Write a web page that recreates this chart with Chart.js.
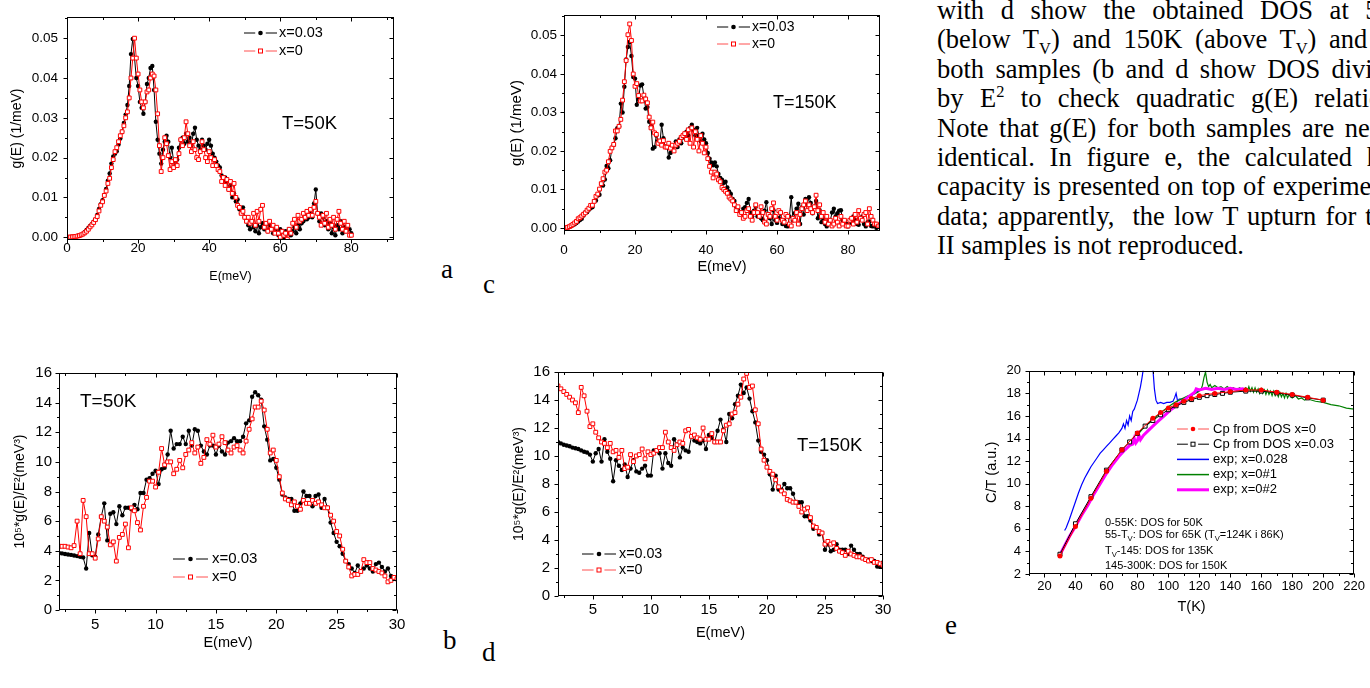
<!DOCTYPE html>
<html>
<head>
<meta charset="utf-8">
<title>Phonon DOS and heat capacity</title>
<script src="https://cdn.jsdelivr.net/npm/chart.js@4.4.1/dist/chart.umd.min.js"></script>
<style>
  html, body { margin: 0; padding: 0; overflow: hidden; background: #fff; }
  body { position: relative; width: 1370px; height: 688px; }
  canvas { position: absolute; }
  .note { position: absolute; left: 937px; top: -4px; width: 474px; font-family: "Liberation Serif", serif; font-size: 26.5px; line-height: 29.4px; color: #000; }
  .note div { text-align: justify; text-align-last: justify; }
  .note div.last { text-align-last: left; }
  .note sub, .note sup { line-height: 0; font-size: 62%; }
  .tag { position: absolute; font-family: "Liberation Serif", serif; font-size: 27px; line-height: 1; color: #000; }
</style>
</head>
<body>
<canvas id="chartA"></canvas>
<canvas id="chartC"></canvas>
<canvas id="chartB"></canvas>
<canvas id="chartD"></canvas>
<canvas id="chartE"></canvas>

<div class="note">
  <div>with d show the obtained DOS at 50K</div>
  <div>(below T<sub>V</sub>) and 150K (above T<sub>V</sub>) and for</div>
  <div>both samples (b and d show DOS divided</div>
  <div>by E<sup>2</sup> to check quadratic g(E) relation).</div>
  <div>Note that g(E) for both samples are nearly</div>
  <div>identical. In figure e, the calculated heat</div>
  <div>capacity is presented on top of experimental</div>
  <div>data; apparently,&nbsp; the low T upturn for type</div>
  <div class="last">II samples is not reproduced.</div>
</div>

<div class="tag" style="left:441px;top:256px">a</div>
<div class="tag" style="left:483px;top:271px">c</div>
<div class="tag" style="left:443px;top:627px">b</div>
<div class="tag" style="left:482px;top:639px">d</div>
<div class="tag" style="left:945px;top:612px">e</div>

<script>
// ---- data ----
// energies (meV) for the g(E) panels
const eA = [
  0, 0.5, 1, 1.5, 2, 2.5, 3, 3.5, 4, 4.5,
  5, 5.5, 6, 6.5, 7, 7.5, 8, 8.5, 9, 9.5,
  10, 10.5, 11, 11.5, 12, 12.5, 13, 13.5, 14, 14.5,
  15, 15.5, 16, 16.5, 17, 17.5, 18, 18.5, 19, 19.5,
  20, 20.5, 21, 21.5, 22, 22.5, 23, 23.5, 24, 24.5,
  25, 25.5, 26, 26.5, 27, 27.5, 28, 28.5, 29, 29.5,
  30, 30.5, 31, 31.5, 32, 32.5, 33, 33.5, 34, 34.5,
  35, 35.5, 36, 36.5, 37, 37.5, 38, 38.5, 39, 39.5,
  40, 40.5, 41, 41.5, 42, 42.5, 43, 43.5, 44, 44.5,
  45, 45.5, 46, 46.5, 47, 47.5, 48, 48.5, 49, 49.5,
  50, 50.5, 51, 51.5, 52, 52.5, 53, 53.5, 54, 54.5,
  55, 55.5, 56, 56.5, 57, 57.5, 58, 58.5, 59, 59.5,
  60, 60.5, 61, 61.5, 62, 62.5, 63, 63.5, 64, 64.5,
  65, 65.5, 66, 66.5, 67, 67.5, 68, 68.5, 69, 69.5,
  70, 70.5, 71, 71.5, 72, 72.5, 73, 73.5, 74, 74.5,
  75, 75.5, 76, 76.5, 77, 77.5, 78, 78.5, 79, 79.5,
  80
];
const eC = [
  0, 0.5, 1, 1.5, 2, 2.5, 3, 3.5, 4, 4.5,
  5, 5.5, 6, 6.5, 7, 7.5, 8, 8.5, 9, 9.5,
  10, 10.5, 11, 11.5, 12, 12.5, 13, 13.5, 14, 14.5,
  15, 15.5, 16, 16.5, 17, 17.5, 18, 18.5, 19, 19.5,
  20, 20.5, 21, 21.5, 22, 22.5, 23, 23.5, 24, 24.5,
  25, 25.5, 26, 26.5, 27, 27.5, 28, 28.5, 29, 29.5,
  30, 30.5, 31, 31.5, 32, 32.5, 33, 33.5, 34, 34.5,
  35, 35.5, 36, 36.5, 37, 37.5, 38, 38.5, 39, 39.5,
  40, 40.5, 41, 41.5, 42, 42.5, 43, 43.5, 44, 44.5,
  45, 45.5, 46, 46.5, 47, 47.5, 48, 48.5, 49, 49.5,
  50, 50.5, 51, 51.5, 52, 52.5, 53, 53.5, 54, 54.5,
  55, 55.5, 56, 56.5, 57, 57.5, 58, 58.5, 59, 59.5,
  60, 60.5, 61, 61.5, 62, 62.5, 63, 63.5, 64, 64.5,
  65, 65.5, 66, 66.5, 67, 67.5, 68, 68.5, 69, 69.5,
  70, 70.5, 71, 71.5, 72, 72.5, 73, 73.5, 74, 74.5,
  75, 75.5, 76, 76.5, 77, 77.5, 78, 78.5, 79, 79.5,
  80, 80.5, 81, 81.5, 82, 82.5, 83, 83.5, 84, 84.5,
  85, 85.5, 86, 86.5, 87, 87.5, 88, 88.5, 89
];
// energies for the g(E)/E^2 panels
const eBD = [
  2, 2.25, 2.5, 2.75, 3, 3.25, 3.5, 3.75, 4, 4.25, 4.5, 4.75,
  5, 5.25, 5.5, 5.75, 6, 6.25, 6.5, 6.75, 7, 7.25, 7.5, 7.75,
  8, 8.25, 8.5, 8.75, 9, 9.25, 9.5, 9.75, 10, 10.25, 10.5, 10.75,
  11, 11.25, 11.5, 11.75, 12, 12.25, 12.5, 12.75, 13, 13.25, 13.5, 13.75,
  14, 14.25, 14.5, 14.75, 15, 15.25, 15.5, 15.75, 16, 16.25, 16.5, 16.75,
  17, 17.25, 17.5, 17.75, 18, 18.25, 18.5, 18.75, 19, 19.25, 19.5, 19.75,
  20, 20.25, 20.5, 20.75, 21, 21.25, 21.5, 21.75, 22, 22.25, 22.5, 22.75,
  23, 23.25, 23.5, 23.75, 24, 24.25, 24.5, 24.75, 25, 25.25, 25.5, 25.75,
  26, 26.25, 26.5, 26.75, 27, 27.25, 27.5, 27.75, 28, 28.25, 28.5, 28.75,
  29, 29.25, 29.5, 29.75, 30
];

// a: g(E) at T=50K
const gA003 = [
  0, 0, 0.00005, 0.0001, 0.00015, 0.00025, 0.00035, 0.00045, 0.0006, 0.0009,
  0.0013, 0.0018, 0.0023, 0.0028, 0.0033, 0.0039, 0.0044, 0.0056, 0.0071, 0.0083,
  0.0093, 0.0106, 0.0121, 0.0142, 0.016, 0.0185, 0.0203, 0.021, 0.0216, 0.0233,
  0.0248, 0.0265, 0.0287, 0.0308, 0.0332, 0.038, 0.046, 0.0498, 0.045, 0.04,
  0.038, 0.034, 0.0325, 0.031, 0.034, 0.0385, 0.04, 0.0425, 0.043, 0.037,
  0.029, 0.0245, 0.021, 0.0185, 0.022, 0.024, 0.0255, 0.024, 0.02, 0.0225,
  0.019, 0.018, 0.0195, 0.0225, 0.0245, 0.025, 0.0235, 0.026, 0.024, 0.025,
  0.023, 0.026, 0.0275, 0.0245, 0.023, 0.022, 0.0245, 0.023, 0.022, 0.0235,
  0.0245, 0.023, 0.021, 0.02, 0.019, 0.018, 0.0175, 0.0155, 0.014, 0.015,
  0.014, 0.012, 0.013, 0.01, 0.011, 0.009, 0.0095, 0.007, 0.006, 0.0075,
  0.005, 0.004, 0.003, 0.002, 0.004, 0.0025, 0.0015, 0.003, 0.001, 0.0025,
  0.0035, 0.002, 0.0035, 0.0015, 0.003, 0.002, 0.001, 0.0025, 0.0015, 0.0005,
  0.002, 0.001, 0, 0.0015, 0.001, 0.002, 0.0005, 0.0015, 0.0025, 0.001,
  0.003, 0.002, 0.0035, 0.004, 0.0055, 0.0045, 0.005, 0.006, 0.005, 0.0085,
  0.012, 0.006, 0.004, 0.006, 0.005, 0.003, 0.004, 0.002, 0.0035, 0.001,
  0.0025, 0.0005, 0.003, 0.002, 0.004, 0.001, 0.0025, 0.0015, 0.003, 0.002,
  0.001
];
const gA0 = [
  0, 0, 0.00005, 0.0001, 0.00015, 0.0002, 0.0003, 0.0004, 0.0006, 0.0008,
  0.0011, 0.0015, 0.002, 0.0026, 0.0031, 0.0037, 0.0044, 0.0052, 0.0066, 0.008,
  0.0089, 0.0105, 0.0116, 0.0135, 0.0148, 0.0175, 0.0195, 0.0215, 0.0225, 0.024,
  0.0255, 0.0265, 0.028, 0.03, 0.0315, 0.035, 0.04, 0.045, 0.05, 0.045,
  0.041, 0.037, 0.034, 0.0325, 0.034, 0.0365, 0.037, 0.04, 0.041, 0.0405,
  0.037, 0.031, 0.023, 0.0165, 0.02, 0.025, 0.0235, 0.0205, 0.017, 0.019,
  0.0175, 0.0195, 0.018, 0.021, 0.0245, 0.023, 0.025, 0.029, 0.026, 0.023,
  0.0215, 0.024, 0.022, 0.02, 0.0195, 0.0215, 0.024, 0.022, 0.02, 0.019,
  0.0215, 0.02, 0.018, 0.0195, 0.018, 0.017, 0.0165, 0.014, 0.015, 0.013,
  0.0145, 0.012, 0.014, 0.011, 0.0135, 0.01, 0.008, 0.0075, 0.006, 0.0065,
  0.005, 0.004, 0.005, 0.0035, 0.004, 0.006, 0.003, 0.0065, 0.004, 0.007,
  0.008, 0.0025, 0.0035, 0.0015, 0.004, 0.002, 0.003, 0.001, 0.0025, 0.001,
  0, 0.0015, 0.0005, 0.001, -0.0005, 0.002, 0.001, 0.0035, 0.0045, 0.0025,
  0.0055, 0.004, 0.0045, 0.006, 0.005, 0.0065, 0.0055, 0.007, 0.0055, 0.0075,
  0.009, 0.006, 0.005, 0.003, 0.0055, 0.0035, 0.006, 0.0025, 0.0045, 0.003,
  0.005, 0.002, 0.0045, 0.0065, 0.0035, 0.002, 0.004, 0.0015, 0.003, 0.0005,
  0.0005
];

// c: g(E) at T=150K
const gC003 = [
  0, 0.00003, 0.00011, 0.00025, 0.00044, 0.00068, 0.00096, 0.00129, 0.00166, 0.00207,
  0.0024, 0.0032, 0.004, 0.0041, 0.00475, 0.0051, 0.0054, 0.007, 0.0071, 0.0084,
  0.0086, 0.0115, 0.011, 0.0126, 0.0161, 0.0155, 0.0176, 0.0208, 0.0216, 0.0233,
  0.0259, 0.0264, 0.0323, 0.03, 0.0367, 0.0438, 0.047, 0.0483, 0.0447, 0.0392,
  0.0388, 0.032, 0.0335, 0.037, 0.0373, 0.0342, 0.031, 0.0314, 0.0276, 0.0264,
  0.0206, 0.021, 0.024, 0.0226, 0.0219, 0.0268, 0.0233, 0.0211, 0.0211, 0.0183,
  0.0195, 0.021, 0.0215, 0.0225, 0.021, 0.023, 0.022, 0.0235, 0.0245, 0.025,
  0.024, 0.026, 0.0268, 0.0255, 0.024, 0.026, 0.024, 0.0225, 0.0245, 0.023,
  0.022, 0.0195, 0.018, 0.017, 0.0163, 0.017, 0.016, 0.014, 0.013, 0.0125,
  0.0117, 0.012, 0.0105, 0.0095, 0.0088, 0.0075, 0.007, 0.0055, 0.005, 0.004,
  0.0038, 0.005, 0.0054, 0.0065, 0.0075, 0.004, 0.003, 0.0045, 0.0055, 0.003,
  0.0038, 0.0025, 0.002, 0.0045, 0.0067, 0.0035, 0.0025, 0.001, 0.0046, 0.002,
  0.0013, 0.0025, 0.0038, 0.001, 0.002, 0.0005, 0.0004, 0.003, 0.008, 0.002,
  0.0038, 0.005, 0.0063, 0.001, 0.0054, 0.0035, 0.0075, 0.006, 0.008, 0.0065,
  0.0038, 0.0055, 0.007, 0.0025, 0.0046, 0.0015, 0.0025, 0.001, 0.0004, 0.002,
  0.002, 0.004, 0.005, 0.003, 0.0038, 0.0045, 0.0046, 0.002, 0.0017, 0.001,
  0.0004, 0.002, 0.0013, 0.003, 0.002, 0.001, 0.0008, 0.0025, 0.003, 0.001,
  0.0004, 0.0015, 0.0017, 0.0005, 0.0004, 0.001, 0, 0.0005, 0.0002
];
const gC0 = [
  0, 0.00004, 0.00015, 0.00034, 0.0006, 0.00092, 0.00129, 0.00169, 0.00238, 0.00267,
  0.00308, 0.00354, 0.00392, 0.0046, 0.0051, 0.00585, 0.0059, 0.0069, 0.0082, 0.0088,
  0.0101, 0.0115, 0.0128, 0.0145, 0.015, 0.0172, 0.0199, 0.0208, 0.0217, 0.0252,
  0.0252, 0.0264, 0.0282, 0.0332, 0.038, 0.0435, 0.0502, 0.053, 0.0487, 0.04,
  0.0368, 0.0375, 0.0344, 0.033, 0.033, 0.0345, 0.0335, 0.0325, 0.0288, 0.026,
  0.0275, 0.0247, 0.0243, 0.022, 0.0226, 0.0215, 0.0227, 0.021, 0.021, 0.022,
  0.0207, 0.0215, 0.02, 0.0215, 0.022, 0.0225, 0.0235, 0.024, 0.0245, 0.023,
  0.0255, 0.022, 0.026, 0.021, 0.025, 0.023, 0.02, 0.024, 0.022, 0.0195,
  0.021, 0.018, 0.016, 0.0145, 0.013, 0.0145, 0.014, 0.0125, 0.012, 0.0105,
  0.01, 0.0095, 0.009, 0.008, 0.0075, 0.007, 0.006, 0.0045, 0.0055, 0.0035,
  0.004, 0.0025, 0.003, 0.0045, 0.005, 0.003, 0.002, 0.004, 0.006, 0.004,
  0.003, 0.0055, 0.004, 0.0015, 0.001, 0.0035, 0.003, 0.005, 0.0065, 0.003,
  0.002, 0.0045, 0.004, 0.002, 0.0015, 0.0035, 0.003, 0.001, 0.0005, 0.0025,
  0.002, 0.004, 0.001, 0.0035, 0.005, 0.006, 0.007, 0.0045, 0.006, 0.005,
  0.004, 0.0055, 0.0085, 0.0045, 0.006, 0.003, 0.004, 0.0015, 0.003, 0.001,
  0.002, 0.0005, 0.001, 0.0025, 0.0015, 0.0005, 0.003, 0.001, 0.002, 0.0005,
  0.0005, 0.002, 0.0025, 0.001, 0.0035, 0.0015, 0.0045, 0.0025, 0.002, 0.0035,
  0.004, 0.001, 0.005, 0.003, 0.002, 0.001, 0.001, 0.0005, 0.0005
];

// b: 10^5 g(E)/E^2 at T=50K
const rB003 = [
  3.85, 3.82, 3.78, 3.75, 3.72, 3.68, 3.64, 3.6, 3.55, 2.8, 5.2, 3.7,
  3.6, 5.1, 6.3, 7.2, 4.7, 6.5, 6.6, 5.8, 7.0, 6.4, 6.9, 6.9,
  6.8, 7.1, 6.8, 7.9, 7.9, 8.8, 8.9, 9.2, 9.4, 8.5, 9.5, 9.6,
  10.5, 12.1, 10.9, 11.2, 11.2, 11.7, 11.2, 12.1, 11.1, 12.2, 12.1, 11.1,
  10.7, 10.5, 11.1, 11.1, 10.5, 11.1, 10.7, 10.5, 11.3, 11.4, 11.6, 11.4,
  11.4, 11.7, 12.6, 12.8, 14.4, 14.7, 14.5, 14.2, 12.4, 11.5, 10.1, 10.2,
  9.6, 8.8, 7.8, 7.6, 7.5, 7.5, 6.7, 6.7, 7.2, 8.0, 7.7, 7.7,
  7.0, 7.7, 7.8, 6.9, 7.5, 6.9, 5.9, 5.2, 4.6, 4.3, 3.8, 3.3,
  3.1, 2.8, 2.5, 3.0, 2.6, 2.8, 3.0, 2.8, 2.6, 3.1, 3.2, 2.9,
  2.6, 2.8, 2.3, 2.2, 2.1
];
const rB0 = [
  4.3, 4.3, 4.3, 4.25, 4.2, 4.35, 6.0, 3.8, 7.4, 6.3, 3.8, 3.8,
  3.5, 4.8, 6.3, 6.0, 5.6, 4.4, 4.6, 3.3, 4.9, 5.1, 5.8, 4.2,
  6.9, 6.7, 5.9, 5.4, 7.0, 7.6, 8.7, 8.7, 8.3, 9.3, 10.9, 9.8,
  10.0, 10.0, 9.2, 9.5, 10.1, 9.6, 10.5, 10.8, 11.3, 10.6, 11.0, 9.9,
  10.3, 11.5, 11.2, 11.8, 11.0, 11.2, 11.7, 11.3, 10.8, 10.6, 11.0, 11.1,
  10.8, 10.6, 11.4, 12.2, 12.9, 13.7, 13.7, 14.1, 13.5, 12.2, 10.6, 10.8,
  10.1, 9.0, 7.9, 7.5, 7.4, 7.1, 7.3, 7.0, 6.8, 7.4, 7.2, 7.2,
  7.4, 7.2, 7.3, 7.1, 6.9, 6.9, 6.4, 6.0, 5.3, 5.0, 4.1, 3.3,
  2.9, 2.3, 2.4, 2.4, 2.6, 3.4, 3.2, 3.2, 2.8, 2.7, 2.6, 2.5,
  2.3, 1.9, 2.0, 2.2, 2.1
];

// d: 10^5 g(E)/E^2 at T=150K
const rD003 = [
  11.0, 10.9, 10.8, 10.75, 10.7, 10.6, 10.55, 10.5, 10.4, 10.3, 10.25, 10.1,
  9.6, 10.2, 10.5, 9.6, 11.2, 10.3, 9.8, 8.2, 9.7, 9.3, 9.0, 9.4,
  8.5, 9.1, 9.7, 8.9, 8.8, 9.1, 9.3, 8.6, 8.6, 10.4, 10.4, 10.2,
  9.1, 10.2, 9.5, 9.3, 11.2, 10.8, 9.9, 10.6, 10.4, 10.3, 11.4, 11.1,
  11.0, 10.9, 11.1, 10.5, 11.5, 11.3, 11.0, 11.8, 12.6, 11.9, 11.0, 13.0,
  12.7, 13.7, 14.3, 15.1, 14.5, 14.9, 14.1, 13.2, 12.4, 11.1, 10.3, 10.1,
  9.7, 8.7, 7.6, 8.6, 7.6, 7.6, 8.0, 7.7, 7.7, 7.3, 6.7, 6.7,
  6.7, 5.7, 5.7, 5.4, 4.8, 4.9, 4.4, 4.5, 3.3, 3.7, 3.2, 3.3,
  3.7, 3.3, 3.3, 3.3, 3.0, 3.6, 3.3, 3.0, 3.0, 2.8, 2.6, 2.6,
  2.5, 2.5, 2.1, 2.1, 2.4
];
const rD0 = [
  15.0, 14.8, 14.6, 14.4, 14.2, 14.0, 13.8, 13.1, 14.9, 14.3, 13.2, 12.1,
  12.3, 11.7, 11.3, 11.0, 10.9, 10.6, 10.9, 10.3, 10.4, 9.9, 10.4, 9.1,
  9.2, 10.1, 9.6, 10.0, 10.1, 10.5, 9.8, 10.3, 10.1, 10.2, 10.4, 10.6,
  10.6, 11.7, 11.0, 10.6, 10.4, 10.8, 11.0, 10.9, 11.8, 11.9, 11.4, 11.5,
  11.3, 11.2, 12.0, 11.2, 11.2, 11.6, 11.0, 11.0, 11.0, 11.8, 12.2, 12.3,
  13.0, 13.1, 13.7, 14.2, 15.5, 15.9, 14.9, 15.0, 13.3, 12.3, 10.5, 9.7,
  9.2, 8.9, 8.7, 8.3, 7.8, 7.5, 7.3, 6.9, 6.8, 6.7, 6.7, 6.4,
  6.0, 6.2, 6.3, 5.6, 5.0, 4.9, 4.6, 4.5, 3.7, 3.9, 3.7, 3.8,
  3.4, 3.2, 3.1, 2.9, 3.2, 3.0, 2.9, 2.8, 2.8, 2.7, 2.6, 2.5,
  2.6, 2.4, 2.4, 2.3, 2.2
];

// e: C/T, calculated from DOS and measured
const tCalc0 = [30, 40, 50, 60, 70, 80, 90, 95, 100, 105, 110, 115, 120, 130, 140, 150, 160, 170, 180, 190, 200];
const cCalc0 = [3.6, 6.2, 8.7, 11.1, 13.0, 14.5, 15.8, 16.3, 16.7, 17.0, 17.3, 17.55, 17.8, 18.0, 18.15, 18.3, 18.3, 18.1, 17.9, 17.65, 17.4];
const tCalc003 = [30, 40, 50, 60, 70, 75, 80, 85, 90, 95, 100, 105, 110, 115, 120, 125, 130, 135, 140, 150, 160, 170, 180, 190, 200];
const cCalc003 = [3.75, 6.45, 8.85, 11.2, 13.0, 13.7, 14.45, 15.1, 15.6, 16.1, 16.55, 16.9, 17.2, 17.45, 17.65, 17.8, 17.9, 18.0, 18.1, 18.2, 18.2, 18.05, 17.85, 17.6, 17.4];
const tExp028 = [
  33, 34, 36, 38, 40, 42, 44, 46, 48, 50, 52, 54, 56, 58, 60, 62, 64, 66, 68, 70,
  71, 72, 73, 74, 75, 76, 77, 78, 79, 80, 81, 82, 83, 84, 85, 89, 90, 91, 92, 93,
  95, 97, 99, 101, 103, 104, 105, 106, 107, 109, 111, 113, 115, 117, 119, 120
];
const cExp028 = [
  5.85, 6.1, 6.8, 7.6, 8.4, 9.2, 9.9, 10.5, 11.0, 11.5, 11.9, 12.3, 12.7, 13.0, 13.3, 13.6, 13.9, 14.2, 14.5, 14.9,
  15.3, 14.9, 15.6, 15.2, 16.0, 15.6, 16.4, 16.6, 17.0, 17.4, 18.0, 18.6, 19.4, 20.3, 21.5, 21.5, 20.2, 18.4, 17.4, 17.1,
  17.2, 17.1, 17.2, 17.2, 17.3, 17.6, 18.0, 17.3, 17.5, 17.5, 17.5, 17.7, 17.8, 18.0, 18.2, 18.3
];
const tExp0a = [
  80, 83, 86, 89, 92, 95, 98, 101, 104, 107, 110, 113, 116, 119, 121, 122, 123, 124, 125, 126,
  127, 128, 130, 132, 134, 136, 138, 140, 142, 144, 146, 148, 150, 151, 152, 153, 154, 155, 156, 157,
  158, 159, 160, 161, 162, 163, 164, 165, 166, 167, 168, 169, 170, 171, 172, 173, 174, 175, 176, 177,
  178, 180, 182, 184, 186, 188, 190, 195, 200, 205, 210, 215, 220
];
const cExp0a = [
  14.3, 14.8, 15.2, 15.6, 15.9, 16.3, 16.6, 16.9, 17.2, 17.4, 17.6, 17.8, 17.9, 18.1, 18.3, 18.7, 19.4, 19.9, 19.0, 18.6,
  18.8, 18.5, 18.7, 18.5, 18.6, 18.4, 18.6, 18.4, 18.5, 18.3, 18.5, 18.3, 18.5, 18.2, 18.6, 18.2, 18.5, 18.1, 18.5, 18.1,
  18.4, 18.0, 18.4, 18.0, 18.3, 17.9, 18.3, 17.9, 18.2, 17.8, 18.2, 17.8, 18.1, 17.7, 18.1, 17.7, 18.0, 17.6, 18.0, 17.6,
  17.9, 17.6, 17.8, 17.5, 17.6, 17.4, 17.5, 17.3, 17.2, 17.0, 16.9, 16.7, 16.6
];
const tExp0b = [
  30, 33, 36, 40, 44, 48, 52, 56, 60, 64, 68, 72, 75, 77, 78, 79, 80, 81, 82, 84,
  87, 90, 94, 98, 102, 106, 110, 114, 117, 118, 120, 124, 128, 132, 136, 140, 144, 148, 150
];
const cExp0b = [
  3.7, 4.5, 5.3, 6.2, 7.2, 8.1, 9.1, 10.0, 10.9, 11.7, 12.4, 13.0, 13.4, 13.5, 14.0, 13.6, 13.8, 14.3, 13.9, 14.3,
  14.7, 15.1, 15.6, 16.1, 16.6, 17.0, 17.4, 17.8, 18.1, 18.4, 18.3, 18.45, 18.35, 18.45, 18.35, 18.45, 18.35, 18.4, 18.3
];

// tick labels
const gTicks = [0, 0.01, 0.02, 0.03, 0.04, 0.05];
const eTicksAC = [0, 20, 40, 60, 80];
const eTicksBD = [5, 10, 15, 20, 25, 30];
const rTicks = [0, 2, 4, 6, 8, 10, 12, 14, 16];
const tTicks = [20, 40, 60, 80, 100, 120, 140, 160, 180, 200, 220];
const cTicks = [2, 4, 6, 8, 10, 12, 14, 16, 18, 20];

// ---- drawing ----
const FONT = '"Liberation Sans", Arial, sans-serif';
Chart.defaults.font.family = FONT;
Chart.defaults.color = '#000';

function pts(xs, ys) {
  return xs.map((x, i) => ({ x: x, y: ys[i] }));
}

function blackSeries(data) {
  return { data: data, showLine: true, borderColor: '#000', borderWidth: 1, pointStyle: 'circle',
    pointRadius: 2.2, pointBackgroundColor: '#000', pointBorderWidth: 0 };
}

function redSeries(data) {
  return { data: data, showLine: true, borderColor: '#ff0000', borderWidth: 1, pointStyle: 'rect',
    pointRadius: 2.7, pointBackgroundColor: '#fff', pointBorderColor: '#ff0000', pointBorderWidth: 1 };
}

// major/minor tick positions for the frame
function marks(min, max, step) {
  const half = step / 2, out = [];
  for (let k = Math.ceil(min / half - 1e-9); k * half <= max + 1e-9; k++) {
    out.push({ v: k * half, major: Math.abs(k) % 2 === 0 });
  }
  return out;
}

// box round the plot, ticks out on bottom/left and in on top/right
const framePlugin = {
  id: 'frame',
  afterDatasetsDraw(chart, args, opts) {
    const ctx = chart.ctx, a = chart.chartArea;
    const xs = chart.scales.x, ys = chart.scales.y;
    const L = Math.round(a.left) + 0.5, R = Math.round(a.right) - 0.5;
    const T = Math.round(a.top) + 0.5, B = Math.round(a.bottom) - 0.5;
    ctx.save();
    ctx.strokeStyle = '#000';
    ctx.lineWidth = 1;
    ctx.strokeRect(L, T, R - L, B - T);
    ctx.beginPath();
    marks(xs.min, xs.max, opts.xStep).forEach(t => {
      const px = Math.round(xs.getPixelForValue(t.v)) + 0.5;
      const len = t.major ? 4 : 2.5;
      ctx.moveTo(px, B); ctx.lineTo(px, B + len);
      ctx.moveTo(px, T); ctx.lineTo(px, T + len);
    });
    marks(ys.min, ys.max, opts.yStep).forEach(t => {
      const py = Math.round(ys.getPixelForValue(t.v)) + 0.5;
      const len = t.major ? 4 : 2.5;
      ctx.moveTo(L - len, py); ctx.lineTo(L, py);
      ctx.moveTo(R - len, py); ctx.lineTo(R, py);
    });
    ctx.stroke();
    ctx.restore();
  }
};
Chart.register(framePlugin);

function drawMarker(ctx, row, x, y) {
  if (row.marker === 'circle') {
    ctx.fillStyle = row.markerColor;
    ctx.beginPath();
    ctx.arc(x, y, 2.3, 0, Math.PI * 2);
    ctx.fill();
  } else {
    ctx.fillStyle = '#fff';
    ctx.strokeStyle = row.markerColor;
    ctx.lineWidth = 1;
    ctx.fillRect(x - 2, y - 2, 4, 4);
    ctx.strokeRect(x - 2, y - 2, 4, 4);
  }
}

// in-plot legend and free text, given in page coordinates
function overlay(box, legend, texts) {
  return {
    id: 'overlay',
    afterDraw(chart) {
      const ctx = chart.ctx;
      ctx.save();
      ctx.textBaseline = 'middle';
      ctx.textAlign = 'left';
      if (legend) {
        legend.rows.forEach((r, i) => {
          const x = legend.x - box.left;
          const y = legend.y - box.top + i * legend.gap;
          const len = legend.len;
          ctx.strokeStyle = r.color;
          ctx.lineWidth = r.lineWidth || 1;
          ctx.beginPath();
          if (r.marker) {
            ctx.moveTo(x, y); ctx.lineTo(x + len * 0.34, y);
            ctx.moveTo(x + len * 0.66, y); ctx.lineTo(x + len, y);
          } else {
            ctx.moveTo(x, y); ctx.lineTo(x + len, y);
          }
          ctx.stroke();
          if (r.marker) drawMarker(ctx, r, x + len / 2, y);
          ctx.fillStyle = '#000';
          ctx.font = legend.size + 'px ' + FONT;
          ctx.fillText(r.text, x + legend.textDx, y);
        });
      }
      (texts || []).forEach(t => {
        let x = t.x - box.left;
        const y = t.y - box.top;
        ctx.fillStyle = '#000';
        t.runs.forEach(run => {
          const sub = run[1] === 1;
          const size = sub ? t.size * 0.7 : t.size;
          ctx.font = size + 'px ' + FONT;
          ctx.fillText(run[0], x, sub ? y + t.size * 0.35 : y);
          x += ctx.measureText(run[0]).width;
        });
      });
      ctx.restore();
    }
  };
}

function axis(a, fit) {
  return {
    type: 'linear',
    min: a.min,
    max: a.max,
    afterFit: fit,
    afterBuildTicks: s => { s.ticks = a.ticks.map(v => ({ value: v })); },
    grid: { drawOnChartArea: false, drawTicks: false },
    border: { display: false },
    ticks: { autoSkip: false, maxRotation: 0, padding: a.pad, font: { size: a.size }, callback: a.fmt || (v => String(v)) },
    title: { display: true, text: a.title, font: { size: a.titleSize }, padding: a.titlePad }
  };
}

function makePanel(id, g) {
  const canvas = document.getElementById(id);
  const b = g.box, p = g.plot;
  canvas.width = b.width;
  canvas.height = b.height;
  canvas.style.left = b.left + 'px';
  canvas.style.top = b.top + 'px';
  canvas.style.width = b.width + 'px';
  canvas.style.height = b.height + 'px';

  return new Chart(canvas, {
    type: 'scatter',
    data: { datasets: g.datasets },
    options: {
      responsive: false,
      animation: false,
      devicePixelRatio: 1,
      events: [],
      layout: { padding: { left: 0, bottom: 0, top: p.top - b.top, right: b.left + b.width - p.right } },
      plugins: {
        legend: { display: false },
        tooltip: { enabled: false },
        frame: { xStep: g.x.step, yStep: g.y.step }
      },
      scales: {
        x: axis(g.x, s => { s.height = b.top + b.height - p.bottom; }),
        y: axis(g.y, s => { s.width = p.left - b.left; })
      }
    },
    plugins: [overlay(b, g.legend, g.texts)]
  });
}

const legendXY = (x, y, gap, size, len, textDx) => ({
  x: x, y: y, gap: gap, size: size, len: len, textDx: textDx,
  rows: [
    { text: 'x=0.03', color: '#000', marker: 'circle', markerColor: '#000' },
    { text: 'x=0', color: '#ff5050', marker: 'rect', markerColor: '#ff0000' }
  ]
});

// a
makePanel('chartA', {
  box: { left: 0, top: 0, width: 400, height: 290 },
  plot: { left: 67, top: 9.5, right: 394, bottom: 240 },
  datasets: [redSeries(pts(eA, gA0)), blackSeries(pts(eA, gA003))],
  x: { min: 0, max: 92, step: 20, ticks: eTicksAC, pad: 0, size: 13.5, title: 'E(meV)', titleSize: 12.5, titlePad: { top: 0, bottom: 5.5 } },
  y: { min: -0.0007, max: 0.0553, step: 0.01, ticks: gTicks, pad: 9, size: 13.5, fmt: v => v.toFixed(2),
       title: 'g(E) (1/meV)', titleSize: 14, titlePad: { top: 8.6, bottom: 0 } },
  legend: legendXY(244, 33, 18, 14.5, 33, 35),
  texts: [{ x: 282, y: 124, size: 18.5, runs: [['T=50K']] }]
});

// c
makePanel('chartC', {
  box: { left: 500, top: 0, width: 400, height: 290 },
  plot: { left: 564, top: 8, right: 880, bottom: 231 },
  datasets: [redSeries(pts(eC, gC0)), blackSeries(pts(eC, gC003))],
  x: { min: 0, max: 89, step: 20, ticks: eTicksAC, pad: 11, size: 13.5, title: 'E(meV)', titleSize: 14.5, titlePad: { top: 0, bottom: 14.3 } },
  y: { min: -0.0008, max: 0.0553, step: 0.01, ticks: gTicks, pad: 7, size: 13.5, fmt: v => v.toFixed(2),
       title: 'g(E) (1/meV)', titleSize: 15, titlePad: { top: 8, bottom: 0 } },
  legend: legendXY(717, 27, 17, 14, 33, 35),
  texts: [{ x: 773, y: 103, size: 18, runs: [['T=150K']] }]
});

// b
makePanel('chartB', {
  box: { left: 0, top: 355, width: 420, height: 305 },
  plot: { left: 59, top: 373, right: 397, bottom: 610 },
  datasets: [redSeries(pts(eBD, rB0)), blackSeries(pts(eBD, rB003))],
  x: { min: 2, max: 30, step: 5, ticks: eTicksBD, pad: 6, size: 15, title: 'E(meV)', titleSize: 14.5, titlePad: { top: 0, bottom: 8.3 } },
  y: { min: 0, max: 16, step: 2, ticks: rTicks, pad: 7, size: 15,
       title: '10\u2075*g(E)/E\u00b2(meV\u00b3)', titleSize: 14, titlePad: { top: 11.6, bottom: 0 } },
  legend: legendXY(173, 559, 18, 15, 35, 39),
  texts: [{ x: 80, y: 402, size: 19, runs: [['T=50K']] }]
});

// d
makePanel('chartD', {
  box: { left: 500, top: 355, width: 420, height: 305 },
  plot: { left: 558, top: 371, right: 883, bottom: 596 },
  datasets: [redSeries(pts(eBD, rD0)), blackSeries(pts(eBD, rD003))],
  x: { min: 2, max: 30, step: 5, ticks: eTicksBD, pad: 5, size: 15, title: 'E(meV)', titleSize: 14.5, titlePad: { top: 0, bottom: 18.3 } },
  y: { min: 0, max: 16, step: 2, ticks: rTicks, pad: 8, size: 15,
       title: '10\u2075*g(E)/E\u00b2(meV\u00b3)', titleSize: 14, titlePad: { top: 10.6, bottom: 0 } },
  legend: legendXY(582, 554, 16, 14.3, 34, 37),
  texts: [{ x: 797, y: 446, size: 18.5, runs: [['T=150K']] }]
});

// e
makePanel('chartE', {
  box: { left: 960, top: 355, width: 410, height: 270 },
  plot: { left: 1029, top: 367, right: 1356, bottom: 574 },
  datasets: [
    { data: pts(tCalc0, cCalc0), showLine: true, borderColor: '#ff0000', borderWidth: 1, pointStyle: 'circle',
      pointRadius: 2.5, pointBackgroundColor: '#ff0000', pointBorderWidth: 0 },
    { data: pts(tCalc003, cCalc003), showLine: true, borderColor: '#000', borderWidth: 1, pointStyle: 'rect',
      pointRadius: 2.8, pointBackgroundColor: '#fff', pointBorderColor: '#000', pointBorderWidth: 1 },
    { data: pts(tExp0b, cExp0b), showLine: true, borderColor: '#ff00ff', borderWidth: 3, pointRadius: 0 },
    { data: pts(tExp0a, cExp0a), showLine: true, borderColor: '#008000', borderWidth: 1.2, pointRadius: 0 },
    { data: pts(tExp028, cExp028), showLine: true, borderColor: '#0000ff', borderWidth: 1.2, pointRadius: 0 }
  ],
  x: { min: 10, max: 220, step: 20, ticks: tTicks, pad: 5, size: 13, title: 'T(K)', titleSize: 14.5, titlePad: { top: 0, bottom: 9.3 } },
  y: { min: 2, max: 20, step: 2, ticks: cTicks, pad: 8, size: 13, title: 'C/T (a.u.)', titleSize: 14.5, titlePad: { top: 23.3, bottom: 0 } },
  legend: {
    x: 1177, y: 429, gap: 15.2, size: 13, len: 32, textDx: 36,
    rows: [
      { text: 'Cp from DOS x=0', color: '#ff5050', marker: 'circle', markerColor: '#ff0000' },
      { text: 'Cp from DOS x=0.03', color: '#000', marker: 'rect', markerColor: '#000' },
      { text: 'exp; x=0.028', color: '#0000ff', lineWidth: 1.5 },
      { text: 'exp; x=0#1', color: '#008000', lineWidth: 1.5 },
      { text: 'exp; x=0#2', color: '#ff00ff', lineWidth: 3 }
    ]
  },
  texts: [
    { x: 1105, y: 523, size: 11, runs: [['0-55K: DOS for 50K']] },
    { x: 1105, y: 535, size: 11, runs: [['55-T'], ['V', 1], [': DOS for 65K (T'], ['V', 1], ['=124K i 86K)']] },
    { x: 1105, y: 551, size: 11, runs: [['T'], ['V', 1], ['-145: DOS for 135K']] },
    { x: 1105, y: 566, size: 11, runs: [['145-300K: DOS for 150K']] }
  ]
});
</script>
</body>
</html>
